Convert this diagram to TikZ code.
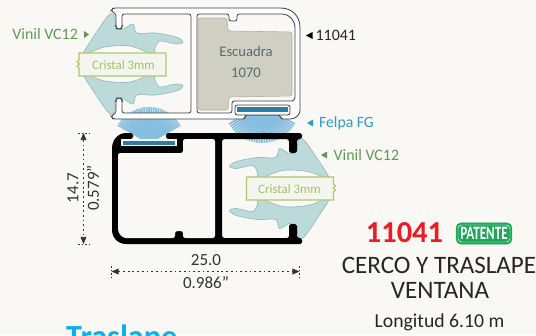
\documentclass[tikz,border=0pt]{standalone}
\usepackage{fontspec}
\setmainfont{Carlito}
\usetikzlibrary{arrows.meta}
\definecolor{paper}{HTML}{F9F8F4}
\definecolor{vinilfill}{HTML}{BBDAD9}
\definecolor{vinilline}{HTML}{8FB8B8}
\definecolor{vinilgreen}{HTML}{5E9A55}
\definecolor{cristalline}{HTML}{B5C56E}
\definecolor{cristalfill}{HTML}{F3F6EC}
\definecolor{cristaltext}{HTML}{A9BE6B}
\definecolor{felpablue}{HTML}{2E9BCB}
\definecolor{felpafan}{HTML}{86BEE0}
\definecolor{felpastrip}{HTML}{2B7BA3}
\definecolor{escuadrafill}{HTML}{CFCFC4}
\definecolor{escuadratext}{HTML}{5A6B70}
\definecolor{wallline}{HTML}{3A4043}
\definecolor{patentegreen}{HTML}{1FA65A}
\definecolor{codigored}{HTML}{ED1C24}
\definecolor{tituloblue}{HTML}{0BAEEF}
\tikzstyle{vinil}=[fill=vinilfill, draw=vinilline, line width=0.5pt]
\tikzstyle{cristal}=[fill=cristalfill, draw=cristalline, line width=1pt]
\tikzstyle{cristaltxt}=[text=cristaltext, font=\fontsize{11}{11}\selectfont]
\tikzstyle{wall}=[fill=white, draw=wallline, line width=0.7pt, rounded corners=2pt]
\tikzstyle{fan}=[felpafan, line width=1.5pt]
\tikzstyle{dimline}=[dash pattern=on 1.5pt off 2.5pt, line width=0.5pt, draw=black!80, {Triangle[length=6pt,width=5pt]}-{Triangle[length=6pt,width=5pt]}]
\tikzstyle{dimtick}=[dash pattern=on 1.5pt off 1.5pt, line width=0.5pt, draw=black!80]
\tikzstyle{dimtxt}=[text=black!80, font=\fontsize{14.5}{14.5}\selectfont]
\newcommand{\vinillobe}{%
	plot[smooth cycle, tension=0.55] coordinates {(113,-50) (117,-38) (123,-35) (133,-40) (137,-31) (155,-31) (176,-27) (183,-22) (176,-20) (160,-23) (155,-16) (153,-10) (130,-18) (105,-17) (85,-10) (85,-14) (100,-37) (108,-48)}}
\begin{document}
\begin{tikzpicture}[x=0.03cm, y=-0.03cm]
		\clip (0, 0) rectangle (536, 335);
		\fill[paper] (0, 0) rectangle (536, 335);
		%%%%%%% felpa
		\coordinate (fanA) at (149, 143);
		\coordinate (fanB) at (262, 105);
		\foreach \ang in {-150,-146,...,-30} {
			\draw[fan] (fanA) -- ++(\ang:36);
		}
		\foreach \ang in {30,34,...,150} {
			\draw[fan] (fanB) -- ++(\ang:38);
		}
		%%%%%%% upper profile
		\begin{scope}[shift={(0,64)}]
			\draw[vinil] \vinillobe;
			\draw[vinil, yscale=-1] \vinillobe;
		\end{scope}
		\draw[wall] (113, 8) -- (278, 8) .. controls (292, 8) and (300, 16) .. (300, 30) -- (300, 108) .. controls (300, 115) and (295, 119) .. (288, 119) -- (281, 119) -- (280, 115) -- (245, 115) -- (245, 119) -- (113, 119) -- (111, 116) -- (116, 113) -- (116, 100) -- (117, 98) -- (121, 98) -- (122, 100) -- (122, 113) -- (191, 113) -- (191, 14) -- (122, 14) -- (122, 27) -- (121, 29) -- (117, 29) -- (116, 27) -- (116, 14) -- (111, 11) -- cycle;
		\draw[wall, fill=paper] (197, 14) -- (229, 14) -- (229, 21) -- (237, 21) -- (237, 14) -- (280, 14) .. controls (289, 14) and (295, 20) .. (295, 30) -- (295, 95) .. controls (295, 99) and (293, 101) .. (290, 101) -- (232, 101) -- (232, 113) -- (197, 113) -- cycle;
		\draw[wall, fill=escuadrafill, draw=escuadrafill!85!black, line width=0.5pt] (198, 18) -- (227, 18) -- (228, 31) -- (292, 32) -- (292, 96) -- (229, 97) -- (228, 110) -- (198, 110) -- cycle;
		\node(escuadra)[anchor=center, align=center, text=escuadratext, font=\fontsize{12.5}{18}\selectfont] at (246, 62) {Escuadra\\1070};
		\draw[wall, fill=paper] (235, 105) rectangle (290, 115);
		\fill[felpastrip] (237, 107) rectangle (288, 112);
		%%%%%%% lower profile
		\begin{scope}[shift={(412.5,188.5)}, xscale=-1]
			\draw[vinil] \vinillobe;
			\draw[vinil, yscale=-1] \vinillobe;
		\end{scope}
		\fill[black, rounded corners=1.5pt] (133, 133) -- (128, 133) .. controls (118, 133) and (112, 140) .. (112, 150) -- (112, 228) .. controls (112, 238) and (118, 244) .. (128, 244) -- (302, 244) -- (302, 238) -- (297, 238) -- (297, 224) -- (289, 224) -- (289, 238) -- (222, 238) -- (222, 139) -- (289, 139) -- (289, 153) -- (297, 153) -- (297, 139) -- (302, 139) -- (302, 133) -- (166, 133) -- (166, 139) -- (177, 139) -- (177, 146) -- (121, 146) -- (121, 139) -- (133, 139) -- cycle;
		\fill[paper, rounded corners=2pt] (118, 153) -- (183, 153) -- (183, 139) -- (215, 139) -- (215, 238) -- (183, 238) -- (183, 231) -- (175, 231) -- (175, 238) -- (128, 238) .. controls (122, 238) and (118, 233) .. (118, 227) -- cycle;
		\fill[paper] (121, 139) rectangle (177, 146);
		\fill[felpastrip] (123, 140.5) rectangle (175, 145);
		%%%%%%% cristal
		\draw[cristal] (79, 53) -- (166, 53) -- (166, 76) -- (79, 76) -- (79, 68) -- (77, 66) -- (80, 64) -- (77, 62) -- (79, 60) -- cycle;
		\node(cristalA)[anchor=center, cristaltxt] at (123.5, 65) {Cristal 3mm};
		\draw[cristal] (246.5, 177) -- (333.5, 177) -- (333.5, 184) -- (335.5, 186) -- (333, 188) -- (335.5, 190) -- (333.5, 192) -- (333.5, 200) -- (246.5, 200) -- cycle;
		\node(cristalB)[anchor=center, cristaltxt] at (289.5, 189) {Cristal 3mm};
		%%%%%%% labels
		\node(vinilA)[anchor=east, text=vinilgreen, font=\fontsize{13.6}{13.6}\selectfont] at (82, 34.5) {Vinil VC12};
		\fill[vinilgreen] (84, 31) -- (89, 34.5) -- (84, 38) -- cycle;
		\node(perfil)[anchor=west, text=black!85, font=\fontsize{13.6}{13.6}\selectfont] at (311.5, 35.5) {11041};
		\fill[black] (312.5, 32) -- (306, 35.5) -- (312.5, 39) -- cycle;
		\node(felpa)[anchor=west, text=felpablue, font=\fontsize{13.4}{13.4}\selectfont] at (315, 123) {Felpa FG};
		\fill[felpablue] (313, 119.5) -- (307, 123) -- (313, 126.5) -- cycle;
		\node(vinilB)[anchor=west, text=vinilgreen, font=\fontsize{13.6}{13.6}\selectfont] at (329.5, 155) {Vinil VC12};
		\fill[vinilgreen] (327, 151.5) -- (321, 155) -- (327, 158.5) -- cycle;
		%%%%%%% dimensions
		\coordinate (dimtop) at (83.5, 133);
		\coordinate (dimbot) at (83.5, 244);
		\coordinate (dimleft) at (111.5, 271.5);
		\coordinate (dimright) at (299.5, 271.5);
		\draw[dimline] (dimtop) -- (dimbot);
		\draw[dimline] (dimleft) -- (dimright);
		\draw[dimtick] (78, 133) -- (89, 133);
		\draw[dimtick] (78, 244) -- (89, 244);
		\draw[dimtick] (111.5, 266) -- (111.5, 277);
		\draw[dimtick] (299.5, 266) -- (299.5, 277);
		\node(altoA)[anchor=center, rotate=90, dimtxt] at (73, 188) {14.7};
		\node(altoB)[anchor=center, rotate=90, dimtxt] at (93, 188) {0.579”};
		\node(anchoA)[anchor=center, dimtxt] at (206, 260.5) {25.0};
		\node(anchoB)[anchor=center, dimtxt] at (206, 283) {0.986”};
		%%%%%%% title block
		\node(codigo)[anchor=center, text=codigored, font=\fontsize{26}{26}\selectfont\bfseries] at (404.5, 233) {11041};
		\node(patente)[anchor=center, fill=patentegreen, draw=patentegreen, rounded corners=4pt, minimum width=47.5pt, minimum height=18pt, inner sep=0pt] at (484, 233.5) {};
		\draw[white, line width=0.4pt, rounded corners=3pt] (458, 225) rectangle (510, 242);
		\node(patentetxt)[anchor=center, text=white, xscale=0.8, yscale=1.15, font=\fontsize{14}{14}\selectfont\bfseries] at (484, 233.5) {PATENTE};
		\node(cerco)[anchor=center, text=black!85, font=\fontsize{21.4}{21.4}\selectfont] at (439, 265) {CERCO Y TRASLAPE};
		\node(ventana)[anchor=center, text=black!85, font=\fontsize{21.4}{21.4}\selectfont] at (440, 290) {VENTANA};
		\node(longitud)[anchor=center, text=black!85, font=\fontsize{16.8}{16.8}\selectfont] at (439.5, 322) {Longitud 6.10 m};
		\node(traslape)[anchor=north west, inner sep=0pt, text=tituloblue, font=\fontsize{27.5}{27.5}\selectfont\bfseries] at (66, 325) {Traslape};
		\end{tikzpicture}
\end{document}
